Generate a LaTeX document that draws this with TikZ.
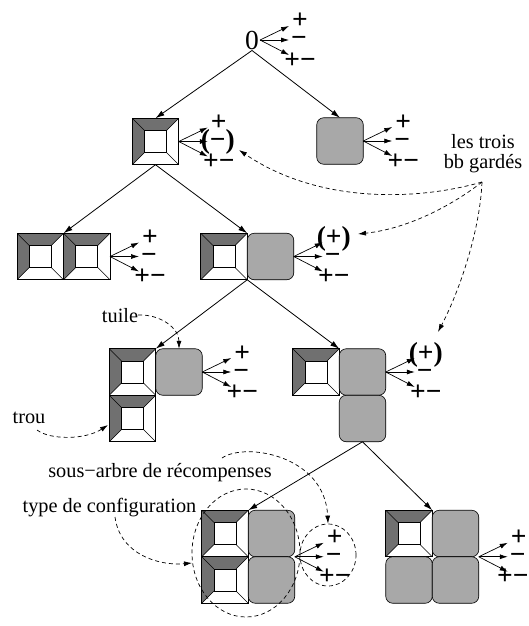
\documentclass[tikz,border=0pt]{standalone}
\usepackage{fontspec}
\setmainfont{Liberation Serif}
\usetikzlibrary{arrows.meta,calc,shapes.geometric}
\definecolor{tiledark}{RGB}{112,112,112}
\definecolor{tilegray}{RGB}{168,168,168}
\tikzset{
  hole/.style={draw=black, line width=0.6pt, fill=white, minimum size=46.5pt,
    inner sep=0pt, outer sep=0pt,
    path picture={
      \begin{scope}[shift={(path picture bounding box.center)}, x=1pt, y=1pt]
        \fill[tiledark] (-23.25,23.25) -- (23.25,23.25) -- (11,11) -- (-11,11) -- cycle;
        \fill[tiledark] (-23.25,23.25) -- (-11,11) -- (-11,-11) -- (-23.25,-23.25) -- cycle;
        \draw[line width=0.6pt] (-11,-11) rectangle (11,11);
        \draw[line width=0.6pt] (-23.25,23.25) -- (-11,11) (23.25,23.25) -- (11,11)
          (23.25,-23.25) -- (11,-11) (-23.25,-23.25) -- (-11,-11);
      \end{scope}}},
  gtile/.style={draw=black, line width=0.6pt, fill=tilegray, rounded corners=7pt,
    minimum size=46.5pt, inner sep=0pt, outer sep=0pt},
  ann/.style={font=\fontsize{20.3}{20}\selectfont, inner sep=0pt},
  sym/.style={font=\fontsize{27.5}{28}\selectfont\bfseries, inner sep=0pt, anchor=base},
  tedge/.style={line width=0.8pt, -{Latex[length=9pt,width=5.5pt]}},
  rarrow/.style={line width=0.7pt, -{Latex[length=8pt,width=5pt]}},
  dasharrow/.style={line width=0.7pt, dash pattern=on 4pt off 3pt, -{Latex[length=8pt,width=5pt]}},
  dcirc/.style={ellipse, draw, line width=0.7pt, dash pattern=on 4pt off 3pt, inner sep=0pt}
}
% #1 prefix, #2 anchor, #3 plus label, #4 minus label, #5 plus-minus label, #6 x offset of #5
\newcommand\rewards[6]{%
  \coordinate (#1tp) at ($(#2)+(29,-14)$);
  \coordinate (#1tm) at ($(#2)+(29,0)$);
  \coordinate (#1tq) at ($(#2)+(29,15)$);
  \node[sym] (#1p) at ($(#2)+(40,-11)$) {#3};
  \node[sym] (#1m) at ($(#2)+(39,7)$) {#4};
  \node[sym] (#1q) at ($(#2)+(#6,28)$) {#5};
  \draw[rarrow] (#2) -- (#1tp);
  \draw[rarrow] (#2) -- (#1tm);
  \draw[rarrow] (#2) -- (#1tq);
}
\begin{document}
\begin{tikzpicture}[x=1pt,y=-1pt]
\useasboundingbox (0,0) rectangle (529,626);

% tiles
\node[hole] (h1) at (155.5,141.5) {};
\node[gtile] (g1) at (340,141) {};
\node[hole] (l2a) at (40.25,256.5) {};
\node[hole] (l2b) at (86.75,256.5) {};
\node[hole] (l2c) at (224,256.5) {};
\node[gtile] (l2d) at (270.5,256.5) {};
\node[hole] (l3a) at (132.5,372) {};
\node[gtile] (l3b) at (179,372) {};
\node[hole] (l3c) at (132.5,418.5) {};
\node[hole] (l3d) at (316,372) {};
\node[gtile] (l3e) at (362.5,372) {};
\node[gtile] (l3f) at (362.5,418.5) {};
\node[hole] (l4a) at (225,533.5) {};
\node[hole] (l4b) at (225,580) {};
\node[gtile] (l4c) at (271.5,533.5) {};
\node[gtile] (l4d) at (271.5,580) {};
\node[hole] (l4e) at (409,533.5) {};
\node[gtile] (l4f) at (455.5,533.5) {};
\node[gtile] (l4g) at (409,580) {};
\node[gtile] (l4h) at (455.5,580) {};

% root
\node[font=\fontsize{27.5}{28}\selectfont, inner sep=1pt] (root) at (252,40) {0};

% tree edges
\draw[tedge] (root.south) -- (h1.north);
\draw[tedge] (root.south) -- (g1.north);
\draw[tedge] (h1.south) -- (l2a.north east);
\draw[tedge] (h1.south) -- (l2c.north east);
\draw[tedge] (l2c.south east) -- (l3a.north east);
\draw[tedge] (l2c.south east) -- (l3d.north east);
\draw[tedge] (l3f.south) -- (l4a.north east);
\draw[tedge] (l3f.south) -- (l4e.north east);

% rewards
\rewards{r0}{root.east}{+}{−}{+−}{40}
\rewards{rh1}{h1.east}{+}{(−)}{+−}{40}
\rewards{rg1}{g1.east}{+}{−}{+−}{40}
\rewards{rl2b}{l2b.east}{+}{−}{+−}{40}
\rewards{rl2d}{l2d.east}{(+)}{−}{+−}{40}
\rewards{rl3b}{l3b.east}{+}{−}{+−}{40}
\rewards{rl3e}{l3e.east}{(+)}{−}{+−}{40}
\rewards{rl4c}{l4c.south east}{+}{−}{+−}{40}
\rewards{rl4f}{l4f.south east}{+}{−}{+−}{34}

% dashed circles
\node[dcirc, minimum width=108pt, minimum height=128pt] (cfg) at (246,553) {};
\node[dcirc, minimum width=56pt, minimum height=62pt] (sub) at (328,555) {};

% annotations
\node[ann, align=center] (bb) at (483,154) {les trois\\bb gardés};
\node[ann, anchor=base] (tuile) at (120,322) {tuile};
\node[ann, anchor=base] (trou) at (29,423) {trou};
\node[ann, anchor=base] (sous) at (160,477) {sous−arbre de récompenses};
\node[ann, anchor=base] (cfgt) at (109.5,512) {type de configuration};

\coordinate (bbo) at (482,182);
\coordinate (t1) at (239,150);
\coordinate (t2) at (358,234);
\coordinate (t3) at (438,332);
\draw[dasharrow] (bbo) .. controls (420,200) and (320,205) .. (t1);
\draw[dasharrow] (bbo) .. controls (462,198) and (415,228) .. (t2);
\draw[dasharrow] (bbo) .. controls (480,230) and (460,290) .. (t3);

\draw[dasharrow] (tuile.east) .. controls (160,314) and (179,328) .. (l3b.north);

\coordinate (trs) at (37,430);
\coordinate (trt) at (108,425);
\draw[dasharrow] (trs) .. controls (50,440) and (85,440) .. (trt);

\coordinate (sos) at (222,458);
\draw[dasharrow] (sos) .. controls (245,442) and (325,455) .. (sub.north);

\coordinate (cfs) at (115,517);
\coordinate (cft) at (192,563);
\draw[dasharrow] (cfs) .. controls (120,555) and (160,566) .. (cft);
\end{tikzpicture}
\end{document}
